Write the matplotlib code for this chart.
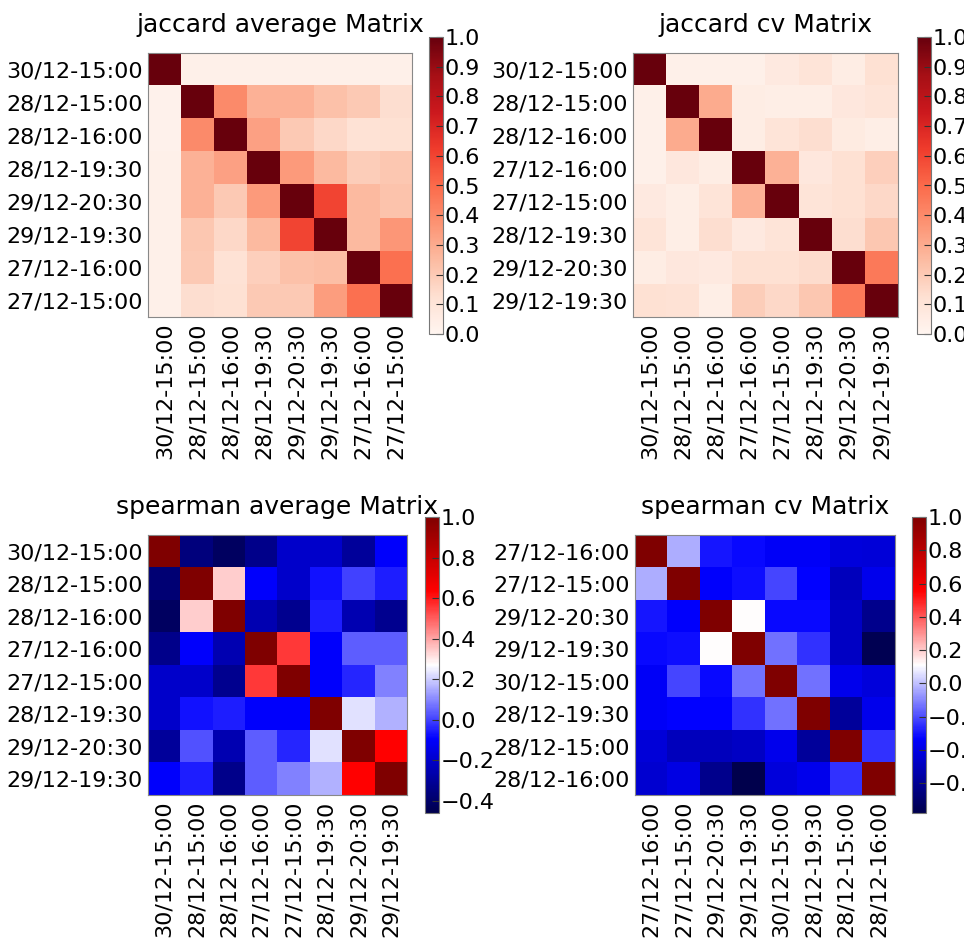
import numpy as np
import matplotlib.pyplot as plt

# tick labels for each matrix
jac_avg_labels = ["30/12-15:00", "28/12-15:00", "28/12-16:00", "28/12-19:30",
                  "29/12-20:30", "29/12-19:30", "27/12-16:00", "27/12-15:00"]
jac_cv_labels = ["30/12-15:00", "28/12-15:00", "28/12-16:00", "27/12-16:00",
                 "27/12-15:00", "28/12-19:30", "29/12-20:30", "29/12-19:30"]
spe_avg_labels = ["30/12-15:00", "28/12-15:00", "28/12-16:00", "27/12-16:00",
                  "27/12-15:00", "28/12-19:30", "29/12-20:30", "29/12-19:30"]
spe_cv_labels = ["27/12-16:00", "27/12-15:00", "29/12-20:30", "29/12-19:30",
                 "30/12-15:00", "28/12-19:30", "28/12-15:00", "28/12-16:00"]

jac_avg = [
    [1.00, 0.03, 0.03, 0.03, 0.03, 0.03, 0.03, 0.03],
    [0.02, 1.00, 0.40, 0.28, 0.28, 0.23, 0.20, 0.13],
    [0.02, 0.40, 1.00, 0.33, 0.20, 0.15, 0.11, 0.12],
    [0.03, 0.28, 0.33, 1.00, 0.35, 0.25, 0.19, 0.21],
    [0.03, 0.28, 0.20, 0.35, 1.00, 0.60, 0.25, 0.22],
    [0.03, 0.21, 0.15, 0.25, 0.60, 1.00, 0.25, 0.36],
    [0.03, 0.20, 0.11, 0.18, 0.23, 0.24, 1.00, 0.48],
    [0.03, 0.13, 0.12, 0.20, 0.20, 0.34, 0.48, 1.00],
]
jac_cv = [
    [1.00, 0.03, 0.03, 0.03, 0.07, 0.10, 0.05, 0.12],
    [0.03, 1.00, 0.30, 0.05, 0.04, 0.04, 0.08, 0.10],
    [0.03, 0.30, 1.00, 0.05, 0.10, 0.13, 0.06, 0.04],
    [0.03, 0.08, 0.05, 1.00, 0.28, 0.08, 0.12, 0.18],
    [0.07, 0.04, 0.10, 0.28, 1.00, 0.10, 0.12, 0.15],
    [0.10, 0.04, 0.13, 0.07, 0.10, 1.00, 0.13, 0.21],
    [0.05, 0.08, 0.07, 0.12, 0.12, 0.14, 1.00, 0.45],
    [0.12, 0.11, 0.04, 0.19, 0.15, 0.21, 0.45, 1.00],
]
spe_avg = [
    [1.00, -0.36, -0.42, -0.33, -0.20, -0.20, -0.30, -0.10],
    [-0.38, 1.00, 0.34, -0.10, -0.20, -0.07, 0.00, -0.05],
    [-0.42, 0.34, 1.00, -0.25, -0.32, -0.05, -0.25, -0.32],
    [-0.33, -0.10, -0.25, 1.00, 0.55, -0.10, 0.04, 0.04],
    [-0.20, -0.20, -0.32, 0.55, 1.00, -0.10, -0.04, 0.09],
    [-0.20, -0.07, -0.05, -0.10, -0.10, 1.00, 0.23, 0.16],
    [-0.30, 0.02, -0.25, 0.04, -0.04, 0.23, 1.00, 0.63],
    [-0.10, -0.05, -0.33, 0.04, 0.09, 0.16, 0.63, 1.00],
]
spe_cv = [
    [1.00, -0.03, -0.30, -0.32, -0.35, -0.35, -0.42, -0.43],
    [-0.03, 1.00, -0.34, -0.31, -0.21, -0.33, -0.50, -0.38],
    [-0.30, -0.34, 1.00, 0.11, -0.32, -0.32, -0.48, -0.62],
    [-0.32, -0.31, 0.11, 1.00, -0.14, -0.25, -0.48, -0.76],
    [-0.35, -0.21, -0.32, -0.14, 1.00, -0.14, -0.38, -0.42],
    [-0.35, -0.33, -0.33, -0.25, -0.14, 1.00, -0.58, -0.38],
    [-0.43, -0.50, -0.50, -0.48, -0.38, -0.58, 1.00, -0.25],
    [-0.45, -0.40, -0.62, -0.78, -0.42, -0.38, -0.25, 1.00],
]

plt.rcParams["font.family"] = ["DejaVu Sans"]

fig = plt.figure(figsize=(9.64, 9.38), dpi=100)
W, H = 964.0, 938.0


def box(x0, y0, x1, y1):
    return [x0 / W, 1 - y1 / H, (x1 - x0) / W, (y1 - y0) / H]


panels = [
    (jac_avg, jac_avg_labels, "jaccard average Matrix", "Reds", 0.0, 1.0,
     np.arange(0.0, 1.01, 0.1), box(148, 53, 412, 317), box(429, 37, 443, 334)),
    (jac_cv, jac_cv_labels, "jaccard cv Matrix", "Reds", 0.0, 1.0,
     np.arange(0.0, 1.01, 0.1), box(633, 53, 898, 317), box(917, 37, 931, 334)),
    (spe_avg, spe_avg_labels, "spearman average Matrix", "seismic", -0.46, 1.0,
     np.arange(-0.4, 1.01, 0.2), box(148, 535, 407, 795), box(425, 517, 439, 813)),
    (spe_cv, spe_cv_labels, "spearman cv Matrix", "seismic", -0.78, 1.0,
     np.arange(-0.6, 1.01, 0.2), box(635, 535, 895, 795), box(912, 517, 926, 813)),
]

for data, labels, title, cmap, vmin, vmax, cticks, apos, cpos in panels:
    ax = fig.add_axes(apos)
    im = ax.imshow(np.array(data), cmap=cmap, vmin=vmin, vmax=vmax,
                   interpolation="nearest", aspect="auto")
    ax.set_xticks(range(len(labels)))
    ax.set_yticks(range(len(labels)))
    ax.set_xticklabels(labels, rotation=90, fontsize=16)
    ax.set_yticklabels(labels, fontsize=16)
    ax.tick_params(length=0, pad=4)
    ax.set_title(title, fontsize=18, pad=15)
    for s in ax.spines.values():
        s.set_color("#888888")

    cax = fig.add_axes(cpos)
    cb = fig.colorbar(im, cax=cax, ticks=cticks)
    cb.ax.set_yticklabels([f"{t:.1f}".replace("-", "\u2212") for t in cticks])
    cb.ax.tick_params(labelsize=16, direction="in", length=5, pad=1,
                      color="#333333")
    cb.outline.set_edgecolor("#777777")

fig.savefig("out.png", dpi=100)
